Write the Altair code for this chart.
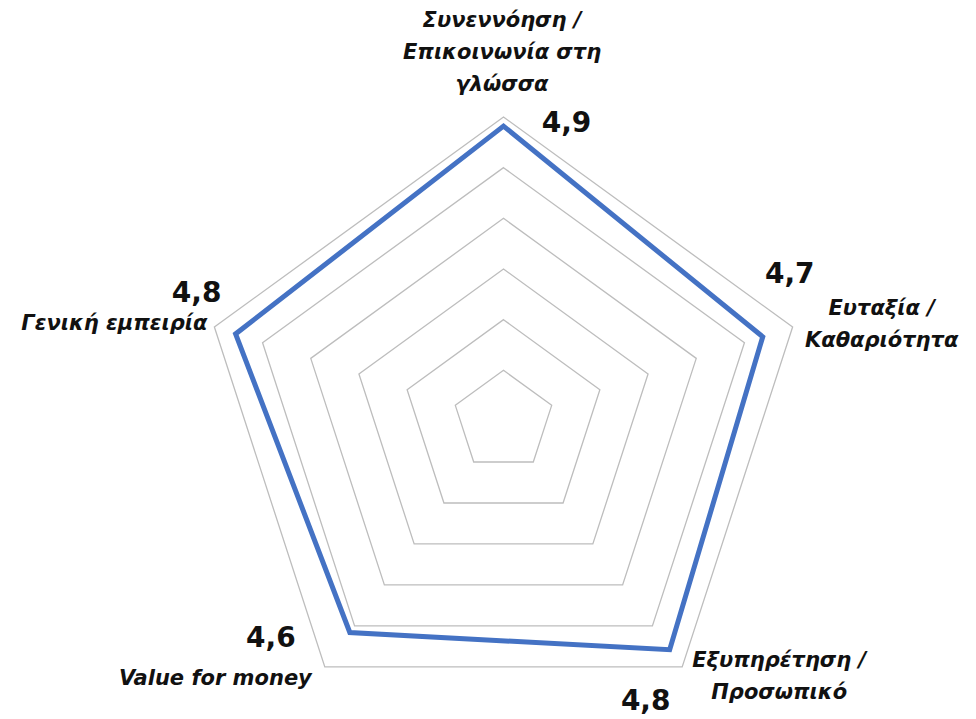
import altair as alt
import pandas as pd

# ---- data ----
categories = [
    "Συνεννόηση /\nΕπικοινωνία στη\nγλώσσα",
    "Ευταξία /\nΚαθαριότητα",
    "Εξυπηρέτηση /\nΠροσωπικό",
    "Value for money",
    "Γενική εμπειρία",
]
values = [4.91, 4.69, 4.79, 4.58, 4.78]
value_labels = ["4,9", "4,7", "4,8", "4,6", "4,8"]
ring_levels = [2.5, 3.0, 3.5, 4.0, 4.5, 5.0]
axis_min = 2.0
axis_max = 5.0

n = len(categories)
df = pd.DataFrame({
    "idx": list(range(n)),
    "category": categories,
    "value": values,
    "label": value_labels,
})
rings = pd.DataFrame(
    [{"ring": lv, "idx": i, "value": lv} for lv in ring_levels for i in range(n)]
)

# ---- layout (scale set-up) ----
W, H = 958, 700
R = 304.0            # pixel radius of the outer ring
cx, cy = 495.5, 413  # centre inside the view
xdom = [-cx / R, (W - cx) / R]
ydom = [-(H - cy) / R, cy / R]

span = axis_max - axis_min


def polar(chart):
    return chart.transform_calculate(
        ang=f"2*PI*datum.idx/{n}"
    ).transform_calculate(
        r=f"(datum.value-{axis_min})/{span}"
    ).transform_calculate(
        px="datum.r*sin(datum.ang)",
        py="datum.r*cos(datum.ang)",
        ox="sin(datum.ang)",
        oy="cos(datum.ang)",
    )


xs = alt.Scale(domain=xdom, nice=False, zero=False)
ys = alt.Scale(domain=ydom, nice=False, zero=False)

grid = polar(alt.Chart(rings)).mark_line(
    interpolate="linear-closed", color="#BDBDBD", strokeWidth=1.3
).encode(
    x=alt.X("px:Q", scale=xs, axis=None),
    y=alt.Y("py:Q", scale=ys, axis=None),
    detail="ring:N",
    order="idx:Q",
)

series = polar(alt.Chart(df)).mark_line(
    interpolate="linear-closed", color="#4472C4", strokeWidth=5
).encode(
    x=alt.X("px:Q", scale=xs, axis=None),
    y=alt.Y("py:Q", scale=ys, axis=None),
    order="idx:Q",
)

# category label placement (relative to outer-ring vertex)
cat_style = [
    dict(align="center", dx=-1.5, dy=-90),
    dict(align="center", dx=89, dy=-12),
    dict(align="center", dx=97, dy=0),
    dict(align="right", dx=-13, dy=18),
    dict(align="right", dx=-7, dy=3),
]
# value label placement (relative to data point)
val_style = [
    dict(dx=63, dy=6),
    dict(dx=27, dy=-54),
    dict(dx=-24, dy=60),
    dict(dx=-79, dy=14),
    dict(dx=-39, dy=-32),
]

layers = [grid, series]
for i in range(n):
    s = cat_style[i]
    layers.append(
        polar(alt.Chart(df)).transform_filter(f"datum.idx == {i}").mark_text(
            align=s["align"], baseline="alphabetic", dx=s["dx"], dy=s["dy"],
            font="DejaVu Sans", fontSize=21, fontWeight="bold", fontStyle="italic",
            lineBreak="\n", lineHeight=32, color="#111111",
        ).encode(
            x=alt.X("ox:Q", scale=xs, axis=None),
            y=alt.Y("oy:Q", scale=ys, axis=None),
            text="category:N",
        )
    )
    v = val_style[i]
    layers.append(
        polar(alt.Chart(df)).transform_filter(f"datum.idx == {i}").mark_text(
            align="center", baseline="alphabetic", dx=v["dx"], dy=v["dy"],
            font="DejaVu Sans", fontSize=28, fontWeight="bold", color="#111111",
        ).encode(
            x=alt.X("px:Q", scale=xs, axis=None),
            y=alt.Y("py:Q", scale=ys, axis=None),
            text="label:N",
        )
    )

chart = alt.layer(*layers).properties(
    width=W, height=H, padding=0, background="white"
).configure_view(stroke=None)

chart.save("out.html", embed_options={"renderer": "svg", "actions": False})
